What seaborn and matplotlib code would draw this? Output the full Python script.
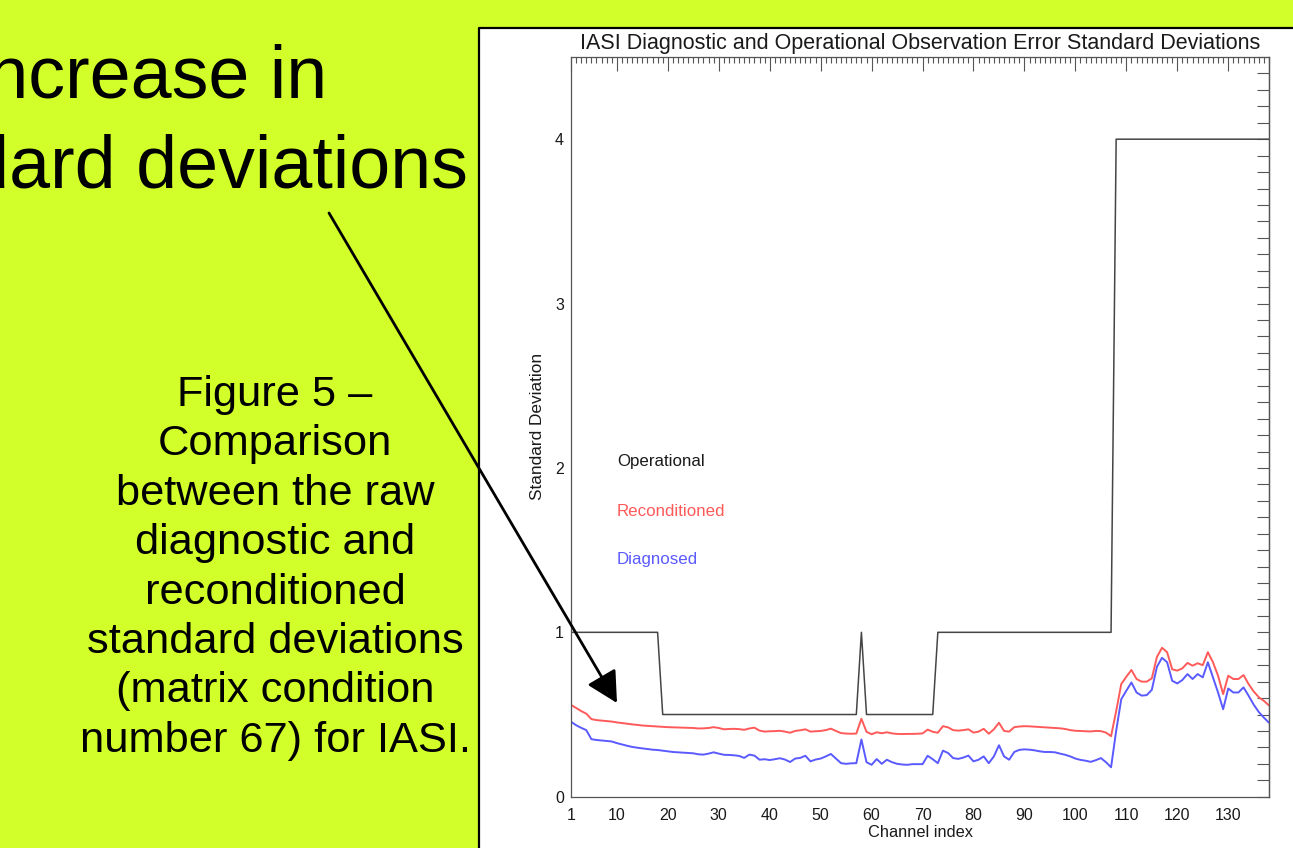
import numpy as np
import pandas as pd
import matplotlib
matplotlib.use("Agg")
import matplotlib.pyplot as plt
import seaborn as sns
from matplotlib.patches import Rectangle, FancyArrowPatch, ArrowStyle
from matplotlib.lines import Line2D
from matplotlib.ticker import MultipleLocator

# ---------------- data ----------------
channels = list(range(1, 139))

operational = [
    1, 1, 1, 1, 1, 1, 1, 1, 1, 1,
    1, 1, 1, 1, 1, 1, 1, 1, 0.5, 0.5,
    0.5, 0.5, 0.5, 0.5, 0.5, 0.5, 0.5, 0.5, 0.5, 0.5,
    0.5, 0.5, 0.5, 0.5, 0.5, 0.5, 0.5, 0.5, 0.5, 0.5,
    0.5, 0.5, 0.5, 0.5, 0.5, 0.5, 0.5, 0.5, 0.5, 0.5,
    0.5, 0.5, 0.5, 0.5, 0.5, 0.5, 0.5, 1, 0.5, 0.5,
    0.5, 0.5, 0.5, 0.5, 0.5, 0.5, 0.5, 0.5, 0.5, 0.5,
    0.5, 0.5, 1, 1, 1, 1, 1, 1, 1, 1,
    1, 1, 1, 1, 1, 1, 1, 1, 1, 1,
    1, 1, 1, 1, 1, 1, 1, 1, 1, 1,
    1, 1, 1, 1, 1, 1, 1, 4, 4, 4,
    4, 4, 4, 4, 4, 4, 4, 4, 4, 4,
    4, 4, 4, 4, 4, 4, 4, 4, 4, 4,
    4, 4, 4, 4, 4, 4, 4, 4,
]

reconditioned = [
    0.558, 0.540, 0.521, 0.505, 0.472, 0.466, 0.463, 0.460, 0.457, 0.452,
    0.448, 0.444, 0.440, 0.437, 0.433, 0.431, 0.429, 0.427, 0.425, 0.423,
    0.422, 0.421, 0.420, 0.419, 0.418, 0.415, 0.416, 0.418, 0.423, 0.418,
    0.410, 0.412, 0.413, 0.411, 0.407, 0.415, 0.420, 0.402, 0.396, 0.398,
    0.399, 0.401, 0.396, 0.389, 0.400, 0.404, 0.410, 0.396, 0.398, 0.400,
    0.405, 0.414, 0.400, 0.387, 0.384, 0.383, 0.384, 0.474, 0.395, 0.380,
    0.392, 0.386, 0.392, 0.385, 0.382, 0.381, 0.382, 0.382, 0.383, 0.385,
    0.408, 0.395, 0.389, 0.429, 0.422, 0.405, 0.402, 0.405, 0.410, 0.390,
    0.396, 0.413, 0.383, 0.410, 0.450, 0.400, 0.396, 0.423, 0.427, 0.429,
    0.428, 0.426, 0.424, 0.422, 0.420, 0.418, 0.416, 0.412, 0.405, 0.401,
    0.400, 0.398, 0.397, 0.400, 0.399, 0.390, 0.368, 0.520, 0.685, 0.730,
    0.771, 0.716, 0.700, 0.700, 0.720, 0.850, 0.906, 0.879, 0.775, 0.767,
    0.781, 0.814, 0.797, 0.812, 0.800, 0.879, 0.818, 0.736, 0.624, 0.736,
    0.716, 0.716, 0.740, 0.685, 0.640, 0.605, 0.583, 0.555,
]

diagnosed = [
    0.456, 0.435, 0.419, 0.405, 0.350, 0.345, 0.342, 0.339, 0.336, 0.326,
    0.318, 0.310, 0.303, 0.298, 0.294, 0.290, 0.286, 0.284, 0.280, 0.276,
    0.272, 0.270, 0.268, 0.266, 0.264, 0.258, 0.256, 0.262, 0.270, 0.262,
    0.255, 0.254, 0.252, 0.248, 0.236, 0.256, 0.250, 0.225, 0.228, 0.223,
    0.228, 0.234, 0.226, 0.211, 0.232, 0.236, 0.249, 0.215, 0.226, 0.232,
    0.245, 0.260, 0.232, 0.204, 0.200, 0.203, 0.204, 0.348, 0.210, 0.194,
    0.229, 0.200, 0.225, 0.210, 0.200, 0.196, 0.194, 0.198, 0.198, 0.198,
    0.249, 0.228, 0.204, 0.280, 0.266, 0.235, 0.230, 0.238, 0.250, 0.215,
    0.225, 0.245, 0.204, 0.245, 0.313, 0.245, 0.225, 0.272, 0.285, 0.288,
    0.286, 0.282, 0.276, 0.272, 0.272, 0.270, 0.262, 0.255, 0.245, 0.232,
    0.224, 0.219, 0.212, 0.222, 0.235, 0.210, 0.179, 0.400, 0.593, 0.645,
    0.695, 0.634, 0.615, 0.618, 0.650, 0.790, 0.845, 0.818, 0.705, 0.689,
    0.710, 0.746, 0.716, 0.746, 0.726, 0.818, 0.726, 0.634, 0.532, 0.658,
    0.634, 0.634, 0.665, 0.614, 0.560, 0.515, 0.481, 0.450,
]

series_names = ["Operational", "Reconditioned", "Diagnosed"]
x_ticks = [1, 10, 20, 30, 40, 50, 60, 70, 80, 90, 100, 110, 120, 130]
y_ticks = [0, 1, 2, 3, 4]

title = "IASI Diagnostic and Operational Observation Error Standard Deviations"
heading_lines = ["Increase in", "standard deviations"]
caption_lines = [
    "Figure 5 \u2013",
    "Comparison",
    "between the raw",
    "diagnostic and",
    "reconditioned",
    "standard deviations",
    "(matrix condition",
    "number 67) for IASI.",
]

# ---------------- style ----------------
sns.set_theme(style="white")
plt.rcParams["font.family"] = ["Liberation Sans", "DejaVu Sans"]

W, H = 1293, 848
BG = "#D2FF2A"
colors = {"Operational": "#454545", "Reconditioned": "#FF5A5A", "Diagnosed": "#5A5AFF"}
TXT = "#1a1a1a"
AXC = "#555555"

df = pd.concat([
    pd.DataFrame({"channel": channels, "value": operational, "series": "Operational"}),
    pd.DataFrame({"channel": channels, "value": reconditioned, "series": "Reconditioned"}),
    pd.DataFrame({"channel": channels, "value": diagnosed, "series": "Diagnosed"}),
], ignore_index=True)

fig = plt.figure(figsize=(W / 100, H / 100), dpi=100)
fig.patch.set_facecolor(BG)

def fx(px):
    return px / W

def fy(py):
    return 1 - py / H

# white panel with black left/top border
fig.add_artist(Rectangle((fx(479), 0), 1 - fx(479), fy(28), transform=fig.transFigure,
                         facecolor="white", edgecolor="none", zorder=-5))
fig.add_artist(Line2D([fx(479), fx(479), 1.0], [0, fy(28), fy(28)], transform=fig.transFigure,
                      color="black", lw=1.6, zorder=-4))

ax_l, ax_r, ax_t, ax_b = 571, 1269, 57, 796.7
ax = fig.add_axes([fx(ax_l), fy(ax_b), fx(ax_r) - fx(ax_l), fy(ax_t) - fy(ax_b)])
ax.set_facecolor("white")

sns.lineplot(data=df, x="channel", y="value", hue="series", hue_order=series_names,
             palette=colors, legend=False, errorbar=None, linewidth=1.4, ax=ax)
for ln in ax.lines[:1]:
    ln.set_linewidth(1.1)

ax.set_xlim(1, 138)
ax.set_ylim(0, 4.5)
ax.set_xticks(x_ticks)
ax.set_yticks(y_ticks)
ax.xaxis.set_minor_locator(MultipleLocator(1))
ax.yaxis.set_minor_locator(MultipleLocator(0.1))
ax.tick_params(which="both", direction="in", top=True, right=False,
               labeltop=False, labelright=False, color=AXC, width=0.8)
ax.tick_params(which="major", length=10)
ax.tick_params(which="minor", length=4.5)
ax.tick_params(axis="x", which="major", pad=8, labelsize=11.5, labelcolor=TXT)
ax.tick_params(axis="y", which="major", pad=5, labelsize=11.5, labelcolor=TXT)
for sp in ax.spines.values():
    sp.set_color(AXC)
    sp.set_linewidth(0.9)

# right-hand ticks: every 0.1, uniform length
sec = ax.secondary_yaxis("right")
sec.set_yticks(y_ticks)
sec.yaxis.set_minor_locator(MultipleLocator(0.1))
sec.tick_params(which="both", direction="in", length=8.5, width=0.8, color=AXC, labelright=False)
sec.spines["right"].set_color(AXC)
sec.spines["right"].set_linewidth(0.9)

ax.set_title(title, fontsize=15.5, pad=6, color=TXT)
ax.set_xlabel("Channel index", fontsize=11.8, color=TXT)
ax.set_ylabel("Standard Deviation", fontsize=12.4, color=TXT)
ax.xaxis.set_label_coords(0.5, -(825 - ax_b) / (ax_b - ax_t))
ax.yaxis.set_label_coords(-(571 - 545) / (ax_r - ax_l), 0.5)

# in-plot legend texts
leg_y = [2.037, 1.738, 1.44]
for name, yv in zip(series_names, leg_y):
    ax.text(10, yv, name, color=colors[name] if name != "Operational" else TXT,
            fontsize=12.2, ha="left", va="center")

# left slide texts
fig.text(fx(327), fy(97), heading_lines[0], fontsize=53, ha="right", va="baseline", color="black")
fig.text(fx(468), fy(187), heading_lines[1], fontsize=53, ha="right", va="baseline", color="black")

cap_x = 275
for i, line in enumerate(caption_lines):
    fig.text(fx(cap_x), fy(406 + 49.4 * i), line, fontsize=31.2, ha="center", va="baseline",
             color="black")

# arrow
arrow = FancyArrowPatch((fx(329), fy(213)), (fx(617), fy(703)), transform=fig.transFigure,
                        arrowstyle=ArrowStyle("-|>", head_length=19, head_width=10),
                        mutation_scale=1, color="black", lw=2.0, shrinkA=0, shrinkB=0, zorder=10)
fig.add_artist(arrow)

fig.savefig("out.png", dpi=100, facecolor=BG)
